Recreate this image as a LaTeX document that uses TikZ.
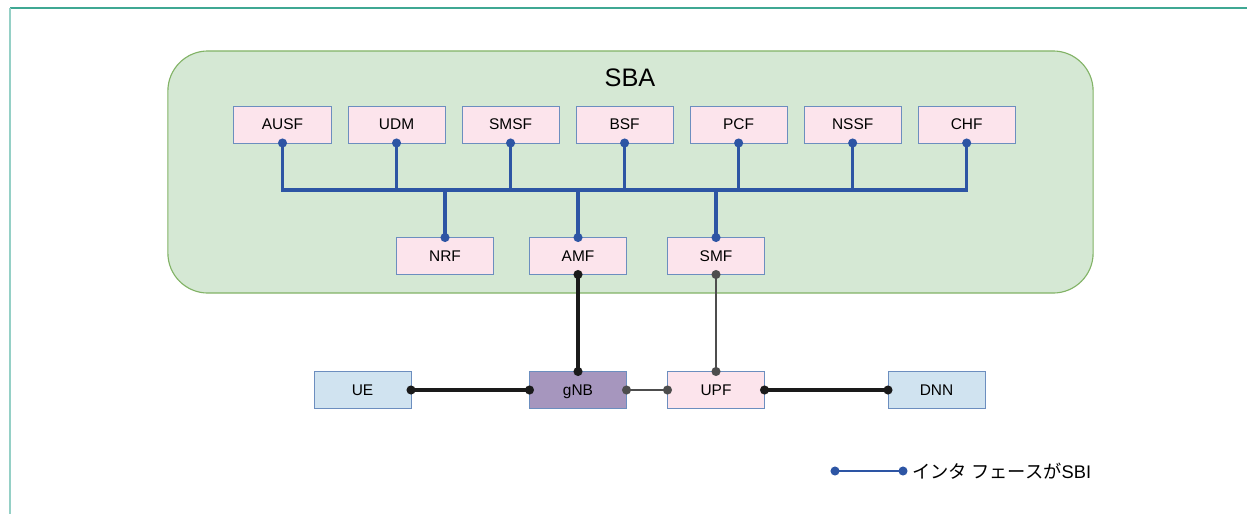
\documentclass[tikz,border=0pt]{standalone}
\usepackage{fontspec}
\setmainfont{Liberation Sans}
\newfontfamily\jpfont{Noto Sans CJK JP}
\usepackage{xcolor}
\usetikzlibrary{arrows.meta,positioning}
\definecolor{FrameTop}{HTML}{3FA893}
\definecolor{FrameLeft}{HTML}{95D0C6}
\definecolor{SbaFill}{HTML}{D5E8D4}
\definecolor{SbaLine}{HTML}{82B366}
\definecolor{NfFill}{HTML}{FCE4EC}
\definecolor{NfLine}{HTML}{6C8EBF}
\definecolor{EndFill}{HTML}{D0E3F0}
\definecolor{RanFill}{HTML}{A696BE}
\definecolor{SbiBlue}{HTML}{2D55A4}
\definecolor{LinkDark}{HTML}{1A1A1A}
\definecolor{LinkGray}{HTML}{4D4D4D}
\begin{document}
\begin{tikzpicture}[x=0.025cm,y=-0.025cm,font=\fontsize{11}{13}\selectfont,
  nf/.style={draw=NfLine,fill=NfFill,line width=0.7pt,minimum width=2.425cm,minimum height=0.925cm,inner sep=0pt,outer sep=0pt,text height=0.92em,text depth=0.2em},
  ue/.style={nf,fill=EndFill},
  ran/.style={nf,fill=RanFill},
  sbi/.style={draw=SbiBlue,line width=2.2pt},
  link/.style={draw=LinkDark,line width=2.2pt},
  glink/.style={draw=LinkGray,line width=2.1pt},
  dots/.style={{Circle[length=6.3pt]}-{Circle[length=6.3pt]},shorten <=-3.15pt,shorten >=-3.15pt},
  dotfrom/.style={{Circle[length=6.3pt]}-,shorten <=-3.15pt},
  dotto/.style={-{Circle[length=6.3pt]},shorten >=-3.15pt}]
  \useasboundingbox (0,0) rectangle (1247,514);
  % outer frame
  \draw[FrameTop,line width=1pt] (10,8) -- (1247,8);
  \draw[FrameLeft,line width=1.5pt] (10,8) -- (10,514);
  % SBA area
  \node[draw=SbaLine,fill=SbaFill,line width=0.8pt,rounded corners=1cm,minimum width=23.125cm,minimum height=6.05cm] (sba) at (630.5,172) {};
  \node[font=\fontsize{18}{22}\selectfont] (sbalabel) at (630,78) {SBA};
  % upper NFs
  \node[nf] (AUSF) at (282.5,124.5) {AUSF};
  \node[nf,right=0.425cm of AUSF] (UDM) {UDM};
  \node[nf,right=0.425cm of UDM] (SMSF) {SMSF};
  \node[nf,right=0.425cm of SMSF] (BSF) {BSF};
  \node[nf,right=0.425cm of BSF] (PCF) {PCF};
  \node[nf,right=0.425cm of PCF] (NSSF) {NSSF};
  \node[nf,right=0.425cm of NSSF] (CHF) {CHF};
  % lower NFs
  \node[nf] (NRF) at (445,256) {NRF};
  \node[nf] (AMF) at (578,256) {AMF};
  \node[nf] (SMF) at (716,256) {SMF};
  % user plane
  \node[ue] (UE) at (362.5,390) {UE};
  \node[ran] (gNB) at (578,390) {gNB};
  \node[nf] (UPF) at (716,390) {UPF};
  \node[ue] (DNN) at (936.5,390) {DNN};
  % service bus
  \coordinate (bus) at (0,190);
  \draw[sbi,dots] (AUSF.south) |- (CHF.south |- bus) -- (CHF.south);
  \draw[sbi,dotfrom] (UDM.south) -- (UDM.south |- bus);
  \draw[sbi,dotfrom] (SMSF.south) -- (SMSF.south |- bus);
  \draw[sbi,dotfrom] (BSF.south) -- (BSF.south |- bus);
  \draw[sbi,dotfrom] (PCF.south) -- (PCF.south |- bus);
  \draw[sbi,dotfrom] (NSSF.south) -- (NSSF.south |- bus);
  \draw[sbi,dotto] (NRF.north |- bus) -- (NRF.north);
  \draw[sbi,dotto] (AMF.north |- bus) -- (AMF.north);
  \draw[sbi,dotto] (SMF.north |- bus) -- (SMF.north);
  % N-interfaces
  \draw[link,dots] (AMF.south) -- (gNB.north);
  \draw[glink,dots] (SMF.south) -- (UPF.north);
  \draw[link,dots] (UE.east) -- (gNB.west);
  \draw[glink,dots] (gNB.east) -- (UPF.west);
  \draw[link,dots] (UPF.east) -- (DNN.west);
  % legend
  \coordinate (legA) at (835,471);
  \coordinate (legB) at (903,471);
  \draw[sbi,dots,line width=1.8pt] (legA) -- (legB);
  \node[right,inner sep=0pt,font=\fontsize{13}{15}\selectfont] (legtext) at (912,471) {{\jpfont インタ フェースが}SBI};
\end{tikzpicture}
\end{document}
